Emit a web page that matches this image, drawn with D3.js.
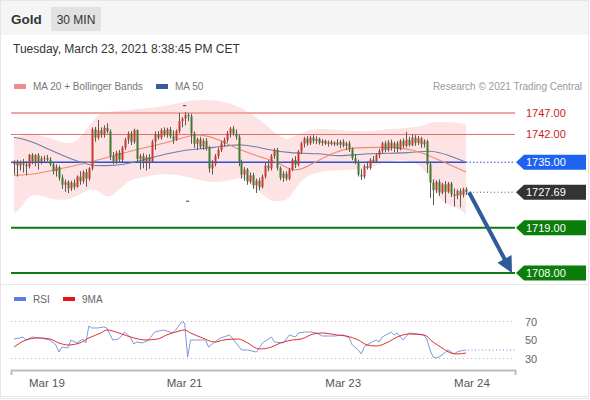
<!DOCTYPE html>
<html><head><meta charset="utf-8">
<script src="https://cdn.jsdelivr.net/npm/d3@7"></script>
<style>
html,body{margin:0;padding:0;background:#fff;}
svg{display:block;font-family:"Liberation Sans",Arial,sans-serif;}
</style></head>
<body><svg id="c" width="590" height="400"></svg>
<script>
// ---------------- DATA ----------------
const title = "Gold";
const period = "30 MIN";
const dateText = "Tuesday, March 23, 2021 8:38:45 PM CET";
const copyright = "Research \u00A9 2021 Trading Central";

// 30-min candles [open, high, low, close]
const candles = [
[1734.5,1735.5,1732.0,1735.0],[1735.0,1735.6,1731.5,1734.2],[1734.2,1735.4,1733.0,1735.0],[1735.0,1735.8,1732.5,1734.4],
[1734.4,1735.2,1731.8,1734.0],[1734.0,1737.0,1733.5,1736.8],[1736.8,1737.2,1734.5,1735.2],[1735.2,1737.0,1734.0,1736.7],
[1736.7,1737.2,1733.2,1735.0],[1735.0,1736.5,1734.5,1735.9],[1735.9,1736.6,1735.0,1736.0],[1736.0,1736.8,1735.2,1735.6],
[1735.6,1736.2,1734.0,1734.5],[1734.5,1735.0,1732.0,1732.8],[1732.8,1734.5,1731.5,1733.8],[1733.8,1734.2,1730.5,1731.2],
[1731.2,1732.0,1728.5,1729.5],[1729.5,1730.8,1727.8,1730.2],[1730.2,1730.6,1727.5,1728.6],[1728.6,1730.5,1728.0,1730.0],
[1730.0,1730.8,1728.3,1729.0],[1729.0,1731.8,1728.8,1731.5],[1731.5,1732.8,1729.5,1730.4],[1730.4,1733.0,1729.8,1732.6],
[1732.6,1733.4,1729.0,1731.0],[1731.0,1733.8,1730.5,1733.5],[1733.5,1743.5,1733.0,1743.0],[1743.0,1743.6,1740.0,1741.0],
[1741.0,1745.3,1740.5,1742.8],[1742.8,1743.5,1741.0,1741.8],[1741.8,1744.0,1741.0,1743.4],[1743.4,1744.5,1742.0,1742.5],
[1742.5,1743.0,1735.5,1736.5],[1736.5,1737.5,1734.5,1735.2],[1735.2,1737.8,1734.6,1737.3],[1737.3,1738.0,1735.0,1735.6],
[1735.6,1739.0,1735.0,1738.6],[1738.6,1741.0,1738.0,1740.5],[1740.5,1742.5,1739.5,1742.0],[1742.0,1742.6,1739.2,1740.0],
[1740.0,1743.2,1739.5,1742.8],[1742.8,1743.0,1735.0,1735.8],[1735.8,1737.0,1733.2,1736.5],[1736.5,1737.2,1733.5,1735.0],
[1735.0,1736.8,1733.0,1736.2],[1736.2,1737.0,1733.4,1735.3],[1735.3,1740.5,1735.0,1740.0],[1740.0,1742.5,1738.0,1741.8],
[1741.8,1742.6,1740.5,1741.0],[1741.0,1743.3,1740.5,1742.8],[1742.8,1743.5,1741.2,1741.8],[1741.8,1743.4,1741.0,1743.0],
[1743.0,1743.6,1740.8,1741.3],[1741.3,1742.8,1739.5,1740.5],[1740.5,1743.0,1740.2,1742.6],[1742.6,1747.0,1742.0,1745.0],
[1745.0,1746.0,1743.5,1745.6],[1745.6,1747.2,1744.0,1746.5],[1746.5,1747.0,1745.0,1746.2],[1746.2,1746.8,1739.5,1742.0],
[1742.0,1742.5,1738.5,1739.5],[1739.5,1741.0,1738.0,1740.6],[1740.6,1741.2,1738.2,1738.8],[1738.8,1740.8,1738.0,1740.2],
[1740.2,1740.9,1737.8,1738.5],[1738.5,1739.0,1732.5,1733.5],[1733.5,1735.5,1732.0,1734.6],[1734.6,1737.0,1734.0,1736.5],
[1736.5,1738.6,1735.8,1738.0],[1738.0,1740.2,1737.5,1739.6],[1739.6,1741.0,1738.8,1740.4],[1740.4,1742.6,1739.8,1742.0],
[1742.0,1743.6,1741.0,1743.2],[1743.2,1743.8,1741.5,1742.0],[1742.0,1743.0,1740.5,1741.2],[1741.2,1741.8,1734.0,1735.0],
[1735.0,1735.6,1731.0,1732.0],[1732.0,1733.8,1730.5,1733.2],[1733.2,1733.6,1729.5,1730.3],[1730.3,1732.5,1729.8,1731.8],
[1731.8,1732.4,1728.5,1729.4],[1729.4,1731.0,1727.5,1730.5],[1730.5,1731.2,1728.2,1729.0],[1729.0,1732.0,1728.6,1731.5],
[1731.5,1734.8,1731.0,1734.2],[1734.2,1735.5,1732.8,1733.5],[1733.5,1737.0,1733.0,1736.5],[1736.5,1738.4,1735.8,1738.0],
[1738.0,1738.5,1733.0,1733.6],[1733.6,1734.0,1730.6,1731.2],[1731.2,1732.8,1730.2,1732.2],[1732.2,1732.8,1730.5,1731.0],
[1731.0,1733.6,1730.6,1733.2],[1733.2,1736.0,1732.8,1735.6],[1735.6,1736.5,1733.6,1734.4],[1734.4,1738.0,1734.0,1737.6],
[1737.6,1740.0,1737.0,1739.6],[1739.6,1741.2,1738.6,1740.8],[1740.8,1741.4,1739.0,1739.6],[1739.6,1741.5,1739.2,1741.0],
[1741.0,1741.6,1739.5,1740.2],[1740.2,1741.3,1739.4,1740.7],[1740.7,1741.0,1739.3,1739.7],[1739.7,1740.6,1739.0,1740.2],
[1740.2,1740.5,1739.2,1739.5],[1739.5,1740.3,1738.8,1739.9],[1739.9,1740.4,1739.1,1739.4],[1739.4,1740.1,1738.9,1739.8],
[1739.8,1740.6,1739.0,1739.3],[1739.3,1740.4,1738.4,1740.0],[1740.0,1740.6,1738.6,1739.0],[1739.0,1740.0,1738.0,1739.6],
[1739.6,1740.2,1737.5,1738.2],[1738.2,1738.6,1735.5,1736.0],[1736.0,1737.0,1734.5,1735.0],[1735.0,1735.6,1731.5,1732.0],
[1732.0,1733.4,1730.7,1731.5],[1731.5,1734.5,1731.0,1734.0],[1734.0,1735.2,1733.2,1733.6],[1733.6,1736.0,1733.2,1735.6],
[1735.6,1736.5,1734.8,1735.2],[1735.2,1737.2,1734.9,1736.8],[1736.8,1738.3,1736.0,1737.8],[1737.8,1740.0,1737.2,1739.6],
[1739.6,1740.2,1737.4,1738.0],[1738.0,1740.4,1737.6,1739.8],[1739.8,1740.5,1737.8,1738.5],[1738.5,1740.0,1737.5,1739.6],
[1739.6,1740.2,1737.4,1738.2],[1738.2,1740.6,1737.9,1740.2],[1740.2,1740.8,1738.5,1739.0],[1739.0,1742.4,1738.6,1740.5],
[1740.5,1741.2,1738.8,1739.2],[1739.2,1741.8,1738.9,1741.0],[1741.0,1741.6,1739.0,1739.7],[1739.7,1741.4,1739.2,1740.8],
[1740.8,1741.2,1738.5,1739.4],[1739.4,1740.6,1738.6,1740.1],[1740.1,1740.5,1732.4,1734.5],[1734.5,1735.0,1726.3,1730.0],
[1730.0,1730.8,1724.5,1728.2],[1728.2,1730.6,1727.5,1730.2],[1730.2,1730.8,1726.8,1727.6],[1727.6,1730.0,1727.2,1729.6],
[1729.6,1730.4,1725.0,1727.8],[1727.8,1730.2,1727.4,1729.8],[1729.8,1730.2,1726.5,1727.2],[1727.2,1728.6,1724.2,1726.8],
[1726.8,1728.4,1726.0,1728.0],[1728.0,1728.6,1724.0,1727.0],[1727.0,1728.8,1726.4,1728.4],[1728.4,1728.9,1727.0,1727.69]
];

// Bollinger bands (MA20 +/- 2 sd), sampled at candle indices
const bbIdx   = [0,2,6,12,18,22,26,29,32,38,43,51,58,62,67,73,76,78,81,85,87,91,92,96,100,109,117,122,131,137,139,142,146,150,151];
const bbUpper = [1740.9,1741.4,1742.1,1740.9,1739.2,1740.4,1745.0,1747.0,1747.4,1747.7,1748.0,1748.7,1750.0,1750.2,1750.2,1749.2,1748.2,1747.2,1746.0,1743.6,1742.2,1740.4,1740.8,1742.1,1743.3,1742.9,1742.4,1742.9,1743.3,1743.8,1744.8,1744.8,1744.8,1744.4,1744.1];
const bbLower = [1722.6,1723.3,1728.2,1725.8,1725.8,1727.0,1729.0,1727.5,1725.8,1730.7,1731.4,1732.4,1731.4,1730.7,1729.9,1730.8,1731.4,1730.5,1728.2,1726.0,1725.3,1725.8,1726.3,1730.7,1732.6,1733.1,1733.1,1734.8,1736.0,1733.8,1730.5,1725.8,1724.2,1723.3,1722.0];
// MA 20
const ma20Idx = [0,6,18,24,32,40,51,56,62,69,73,82,89,92,96,100,107,112,122,133,142,151];
const ma20    = [1731.8,1731.9,1733.8,1734.8,1736.3,1738.0,1739.7,1740.9,1742.1,1740.4,1738.7,1736.3,1734.8,1733.1,1733.1,1734.8,1737.5,1738.5,1738.7,1738.5,1735.5,1732.6];
// MA 50
const ma50Idx = [0,5,12,20,25,30,37,45,56,67,76,85,92,102,109,117,133,139,145,151];
const ma50    = [1741.1,1740.4,1738.0,1735.5,1734.3,1734.1,1734.3,1736.0,1738.0,1738.5,1739.7,1738.0,1737.2,1737.2,1736.3,1737.2,1737.2,1738.0,1736.8,1735.0];

// Key levels
const resistLevels = [1747.00, 1742.00];
const pivotLevel = 1735.00;
const lastPrice = 1727.69;
const supportLevels = [1719.00, 1708.00];

// RSI and its 9-period MA, sampled at candle indices
const rsiIdx = [0,2,3,4,6,9,12,14,15,16,18,19,21,23,24,25,26,28,30,31,33,35,37,39,40,41,43,45,47,50,53,54,56,57,58,59,61,64,65,67,69,72,74,76,78,81,83,86,87,90,92,94,95,97,99,101,103,107,110,112,113,115,116,117,119,121,122,123,126,127,128,130,132,135,137,138,139,140,141,142,143,145,147,148,149,151];
const rsi    = [51.1,52.2,53.2,50,53.2,52.2,50,44.6,37,42.4,41.4,50,46.8,51.1,46.8,65.1,63,63,64.1,63,50,51.1,58.6,52.2,45.7,47.8,46.8,50,58.6,60.8,57.6,60.8,69.5,68.4,31.6,50,50,50,42.4,47.8,52.2,55.4,47.8,39.2,39.2,37,46.8,53.2,47.8,46.8,55.4,53.2,57.6,58.6,58.6,57.6,54.3,54.3,55.4,52.2,44.6,39.2,34.9,42.4,46.8,50,47.8,53.2,58.6,55.4,57.6,50,57.6,56.5,55.4,50,39.2,31.6,30.5,31.6,33.8,39.2,34.9,37,38.1,39.2];
const rsiMaIdx = [0,4,8,12,15,18,22,25,29,31,35,40,44,48,51,54,57,59,63,67,70,75,78,82,86,89,93,96,100,103,108,111,115,118,121,125,128,132,137,140,143,146,148,151];
const rsiMa    = [42.4,50,52.2,51.1,46.8,44.6,46.8,52.2,57.6,60.8,57.6,52.2,50,51.1,55.4,58.6,60.8,57.6,52.2,47.8,50,51.1,46.8,40.3,42.4,46.8,50,51.1,56.5,57.6,55.4,54.3,50,44.6,43.5,47.8,53.2,56.5,55.4,47.8,41.4,35.9,34.9,35.9];
const rsiLevels = [70, 50, 30];

// Date axis
const dateLabels = ["Mar 19", "Mar 21", "Mar 23", "Mar 24"];
const dateIdx = [11, 57, 110, 153];

// Markers
const markerIdx = [57, 58];
const markerPrice = [1748.8, 1725.5];

// ---------------- DRAW ----------------
const svg = d3.select("#c");
const W = 590, H = 400;

// frame / header
svg.append("rect").attr("x",0.5).attr("y",0.5).attr("width",W-2).attr("height",H-2)
  .attr("fill","#fff").attr("stroke","#e6e6e6");
svg.append("rect").attr("x",1).attr("y",1).attr("width",W-3).attr("height",34).attr("fill","#f5f5f5");
svg.append("text").attr("x",11).attr("y",24).text(title)
  .attr("font-size",13.5).attr("font-weight","bold").attr("fill","#333");
svg.append("rect").attr("x",51).attr("y",7).attr("width",50).attr("height",24).attr("fill","#e2e2e2");
svg.append("text").attr("x",76).attr("y",23.5).attr("text-anchor","middle").text(period)
  .attr("font-size",12).attr("fill","#333");
svg.append("text").attr("x",13).attr("y",53).text(dateText).attr("font-size",12).attr("fill","#333");

// legend
svg.append("rect").attr("x",14).attr("y",84).attr("width",12).attr("height",5).attr("fill","#f28b8b");
svg.append("text").attr("x",33).attr("y",90).text("MA 20 + Bollinger Bands").attr("font-size",10).attr("fill","#777");
svg.append("rect").attr("x",156).attr("y",84).attr("width",12).attr("height",5).attr("fill","#3a5a9c");
svg.append("text").attr("x",175).attr("y",90).text("MA 50").attr("font-size",10).attr("fill","#777");
svg.append("text").attr("x",582).attr("y",90).attr("text-anchor","end").text(copyright).attr("font-size",10).attr("fill","#9a9a9a");

// scales
const x = d3.scaleLinear().domain([0, candles.length-1]).range([14, 466]);
const y = d3.scaleLinear().domain([1708, 1747]).range([273, 113]);
const ry = d3.scaleLinear().domain([30, 70]).range([358.5, 321.5]);
const lineL = 11, lineR = 515, endX = x(candles.length-1);

// bollinger band fill
const bbData = bbIdx.map((d,i)=>({i:d,u:bbUpper[i],l:bbLower[i]}));
svg.append("path").datum(bbData)
  .attr("d", d3.area().x(d=>x(d.i)).y0(d=>y(d.l)).y1(d=>y(d.u)).curve(d3.curveBasis))
  .attr("fill","#fde3e3");

// level lines
svg.append("line").attr("x1",lineL).attr("x2",lineR).attr("y1",y(resistLevels[0])).attr("y2",y(resistLevels[0]))
  .attr("stroke","#f3a5a5").attr("stroke-width",2);
svg.append("line").attr("x1",lineL).attr("x2",lineR).attr("y1",Math.round(y(resistLevels[1]))+0.5).attr("y2",Math.round(y(resistLevels[1]))+0.5)
  .attr("stroke","#e66e6e").attr("stroke-width",1);
svg.append("line").attr("x1",lineL).attr("x2",endX).attr("y1",y(pivotLevel)).attr("y2",y(pivotLevel))
  .attr("stroke","#2f4fd0").attr("stroke-width",1.5);
svg.append("line").attr("x1",endX).attr("x2",lineR).attr("y1",y(pivotLevel)).attr("y2",y(pivotLevel))
  .attr("stroke","#2f4fd0").attr("stroke-width",1.2).attr("stroke-dasharray","1.5,2");
svg.append("line").attr("x1",endX).attr("x2",lineR).attr("y1",y(lastPrice)).attr("y2",y(lastPrice))
  .attr("stroke","#555").attr("stroke-width",1).attr("stroke-dasharray","1,2.5");
supportLevels.forEach(v=>{
  svg.append("line").attr("x1",lineL).attr("x2",lineR).attr("y1",y(v)).attr("y2",y(v))
    .attr("stroke","#0f7a0f").attr("stroke-width",2);
});

// moving averages
svg.append("path").datum(ma50Idx.map((d,i)=>[d,ma50[i]]))
  .attr("d", d3.line().x(d=>x(d[0])).y(d=>y(d[1])).curve(d3.curveBasis))
  .attr("fill","none").attr("stroke","#6f7ea6").attr("stroke-width",1.1);
svg.append("path").datum(ma20Idx.map((d,i)=>[d,ma20[i]]))
  .attr("d", d3.line().x(d=>x(d[0])).y(d=>y(d[1])).curve(d3.curveBasis))
  .attr("fill","none").attr("stroke","#ec8a7a").attr("stroke-width",1.1);

// candles
const cg = svg.append("g");
candles.forEach((c,i)=>{
  const [o,h,l,cl] = c;
  const cx = Math.round(x(i));
  const up = cl >= o;
  const col = up ? "#c83a30" : "#3f7a35";
  cg.append("line").attr("x1",cx+0.5).attr("x2",cx+0.5).attr("y1",y(h)).attr("y2",y(l))
    .attr("stroke","#5a5a5a").attr("stroke-width",1);
  const top = y(Math.max(o,cl)), bot = y(Math.min(o,cl));
  cg.append("rect").attr("x",cx-0.5).attr("y",top).attr("width",2).attr("height",Math.max(1,bot-top))
    .attr("fill",col);
});

// small markers
markerIdx.forEach((d,i)=>{
  svg.append("line").attr("x1",x(d)-1.5).attr("x2",x(d)+1.5).attr("y1",y(markerPrice[i])).attr("y2",y(markerPrice[i]))
    .attr("stroke","#333").attr("stroke-width",1);
});

// forecast arrow
const ax1 = endX+3, ay1 = y(lastPrice);
const ax2 = 512, ay2 = y(supportLevels[1]);
const ang = Math.atan2(ay2-ay1, ax2-ax1);
const hl = 16, hw = 8;
const bx = ax2 - hl*Math.cos(ang), by = ay2 - hl*Math.sin(ang);
svg.append("line").attr("x1",ax1).attr("y1",ay1).attr("x2",bx+2*Math.cos(ang)).attr("y2",by+2*Math.sin(ang))
  .attr("stroke","#2e5b9a").attr("stroke-width",4);
svg.append("path").attr("d", d3.line()([
  [ax2, ay2],
  [bx + hw*Math.sin(ang), by - hw*Math.cos(ang)],
  [bx - hw*Math.sin(ang), by + hw*Math.cos(ang)]
])+"Z").attr("fill","#2e5b9a");

// level labels
resistLevels.forEach(v=>{
  svg.append("text").attr("x",526).attr("y",y(v)+4).text(v.toFixed(2))
    .attr("font-size",11).attr("fill","#d01a1a");
});
function tag(v, col, txt){
  const yy = y(v);
  svg.append("path").attr("d", d3.line()([[516,yy],[524,yy-7.5],[586,yy-7.5],[586,yy+7.5],[524,yy+7.5]])+"Z")
    .attr("fill",col);
  svg.append("text").attr("x",526).attr("y",yy+4).text(txt).attr("font-size",11).attr("fill","#fff");
}
tag(pivotLevel, "#1e63f0", pivotLevel.toFixed(2));
tag(lastPrice, "#333333", lastPrice.toFixed(2));
supportLevels.forEach(v=>tag(v, "#0a7d0a", v.toFixed(2)));

// panel separator
svg.append("line").attr("x1",1).attr("x2",W-2).attr("y1",284.5).attr("y2",284.5).attr("stroke","#e8e8e8");

// RSI panel legend
svg.append("rect").attr("x",14).attr("y",297).attr("width",12).attr("height",4).attr("fill","#5b7fe0");
svg.append("text").attr("x",33).attr("y",302.5).text("RSI").attr("font-size",10).attr("fill","#666");
svg.append("rect").attr("x",63).attr("y",297).attr("width",12).attr("height",4).attr("fill","#ee1111");
svg.append("text").attr("x",82).attr("y",302.5).text("9MA").attr("font-size",10).attr("fill","#666");

// RSI levels
rsiLevels.forEach(v=>{
  if (v !== 50) {
    svg.append("line").attr("x1",lineL).attr("x2",lineR).attr("y1",ry(v)).attr("y2",ry(v))
      .attr("stroke","#bbb").attr("stroke-width",1).attr("stroke-dasharray","1,3");
  }
  svg.append("text").attr("x",525).attr("y",ry(v)+4).text(v).attr("font-size",11).attr("fill","#666");
});

// RSI lines
svg.append("path").datum(rsiIdx.map((d,i)=>[d,rsi[i]]))
  .attr("d", d3.line().x(d=>x(d[0])).y(d=>ry(d[1])))
  .attr("fill","none").attr("stroke","#7c9be0").attr("stroke-width",1);
svg.append("path").datum(rsiMaIdx.map((d,i)=>[d,rsiMa[i]]))
  .attr("d", d3.line().x(d=>x(d[0])).y(d=>ry(d[1])).curve(d3.curveMonotoneX))
  .attr("fill","none").attr("stroke","#e52b2b").attr("stroke-width",1);
svg.append("line").attr("x1",endX+2).attr("x2",517).attr("y1",ry(rsi[rsi.length-1])).attr("y2",ry(rsi[rsi.length-1]))
  .attr("stroke","#6a8ad8").attr("stroke-width",1).attr("stroke-dasharray","1,2.5");

// date axis
svg.append("path").attr("d","M11.5,375V370.5H515.5V375").attr("fill","none").attr("stroke","#bdbdbd").attr("stroke-width",2);
dateLabels.forEach((t,i)=>{
  svg.append("text").attr("x",x(dateIdx[i])).attr("y",387).attr("text-anchor","middle").text(t)
    .attr("font-size",11.5).attr("fill","#555");
});
svg.append("line").attr("x1",1).attr("x2",W-2).attr("y1",396.5).attr("y2",396.5).attr("stroke","#e8e8e8");
</script>
</body></html>
